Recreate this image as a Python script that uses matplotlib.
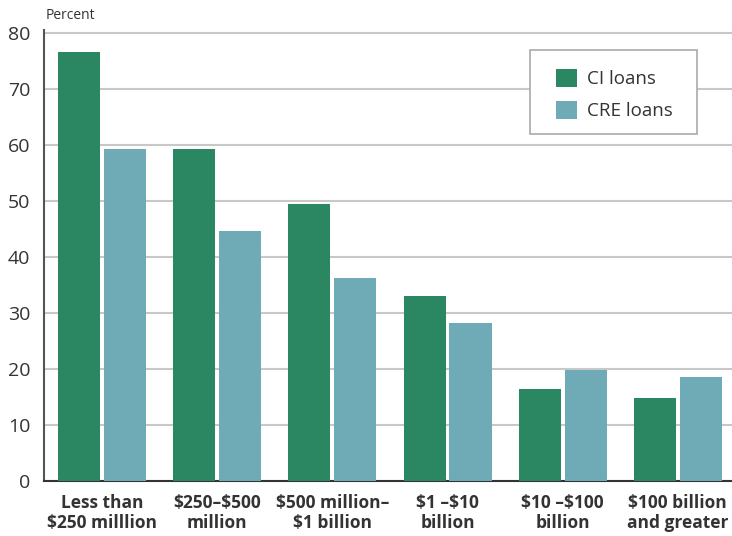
import matplotlib
matplotlib.use("Agg")
import matplotlib.pyplot as plt
from matplotlib.patches import Rectangle
import numpy as np

categories = ["Less than\n\\$250 milllion", "\\$250\u2013\\$500\nmillion", "\\$500 million\u2013\n\\$1 billion",
              "\\$1 \u2013\\$10\nbillion", "\\$10 \u2013\\$100\nbillion", "\\$100 billion\nand greater"]
ci_loans = [76.6, 59.3, 49.5, 33.0, 16.4, 14.8]
cre_loans = [59.3, 44.6, 36.2, 28.2, 19.8, 18.6]
yticks = [0, 10, 20, 30, 40, 50, 60, 70, 80]

plt.rcParams['font.family'] = ['Open Sans', 'DejaVu Sans']

fig = plt.figure(figsize=(7.32, 5.36), dpi=100)
ax = fig.add_axes([0.0601, 0.1026, 0.9399, 0.8414])

x = np.arange(len(categories))
w = 0.365
ax.bar(x - w / 2 - 0.017, ci_loans, w, color='#2b8762', label='CI loans', zorder=3)
ax.bar(x + w / 2 + 0.017, cre_loans, w, color='#6faab7', label='CRE loans', zorder=3)

ax.set_xlim(-0.504, 5.47)
ax.set_ylim(0, 80.5)
ax.set_yticks(yticks)
ax.set_yticklabels([str(v) for v in yticks], fontsize=14, color='#333333')
ax.set_xticks(x)
ax.set_xticklabels(categories, fontsize=12.5, fontweight='bold', color='#333333', linespacing=1.2)
ax.tick_params(axis='both', length=0)
ax.tick_params(axis='y', pad=10)
ax.tick_params(axis='x', pad=9)

ax.yaxis.grid(True, color='#c8c8c8', linewidth=1.5, zorder=0)
for s in ['top', 'right']:
    ax.spines[s].set_visible(False)
ax.spines['left'].set_color('#555555')
ax.spines['bottom'].set_color('#333333')
ax.spines['left'].set_linewidth(1.5)
ax.spines['bottom'].set_linewidth(1.5)

fig.text(0.063, 0.972, 'Percent', fontsize=10, color='#333333', va='center', ha='left')

# legend box drawn by hand so the side padding can differ from the top
box = Rectangle((0.724, 0.75), 0.228, 0.1567, transform=fig.transFigure, clip_on=False,
                facecolor='white', edgecolor='#aaaaaa', linewidth=1.2, zorder=4)
ax.add_patch(box)
leg = ax.legend(loc='upper left', bbox_to_anchor=(0.7596, 0.872), bbox_transform=fig.transFigure,
                fontsize=13.5, frameon=False, handlelength=1.12, handleheight=1.1,
                borderpad=0, labelspacing=0.7, handletextpad=0.55, borderaxespad=0)
leg.set_zorder(5)
for t in leg.get_texts():
    t.set_color('#333333')

fig.savefig('out.png', dpi=100)
